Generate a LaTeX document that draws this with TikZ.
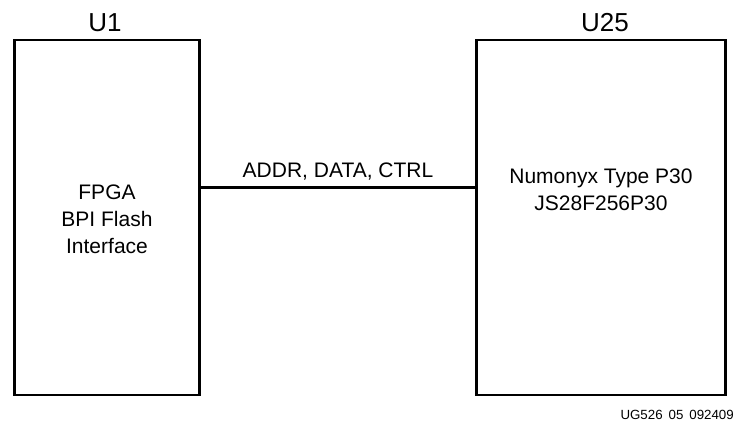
\documentclass[tikz,border=0pt]{standalone}
\usepackage{fontspec}
\setmainfont{Liberation Sans}
\tikzset{box/.style={draw=black,line width=2.6pt,inner sep=0pt},
lbl/.style={inner sep=0pt,font=\fontsize{21pt}{27pt}\selectfont,align=center,anchor=center},
title/.style={inner sep=0pt,font=\fontsize{26pt}{30pt}\selectfont,anchor=center}}
\begin{document}
\begin{tikzpicture}[x=1pt,y=-1pt]
\useasboundingbox (0,0) rectangle (734,421);
\node[box,minimum width=185pt,minimum height=355pt] (u1) at (107,217.5) {};
\node[box,minimum width=249pt,minimum height=355pt] (u25) at (601,217.5) {};
\draw[line width=2.8pt] (u1.east |- 0,187.7) -- (u25.west |- 0,187.7);
\node[title] (t1) at (105,23) {U1};
\node[title] (t2) at (605,23) {U25};
\node[lbl] (l1) at (107,219) {FPGA\\BPI Flash\\Interface};
\node[lbl] (l2) at (601,190) {Numonyx Type P30\\JS28F256P30};
\node[lbl] (l3) at (338,172) {ADDR, DATA, CTRL};
\node[inner sep=0pt,anchor=east,font=\fontsize{13.3pt}{16pt}\selectfont] (l4) at (734,414.5) {UG526\hspace{0.45em}05\hspace{0.45em}092409};
\end{tikzpicture}
\end{document}
